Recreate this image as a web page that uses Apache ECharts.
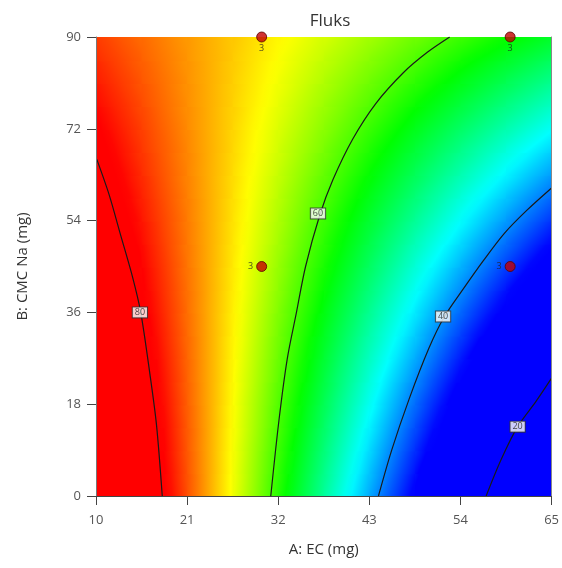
<!DOCTYPE html>
<html>
<head>
<meta charset="utf-8">
<title>Fluks</title>
<script src="https://cdn.jsdelivr.net/npm/echarts@6/dist/echarts.min.js"></script>
<style>
  html, body { margin: 0; padding: 0; background: #fff; }
  #chart { width: 562px; height: 568px; }
</style>
</head>
<body>
<div id="chart"></div>
<script>
// surface grid: columns are A: EC (mg), rows are B: CMC Na (mg)
var aLevels = [10, 15.5, 21, 26.5, 32, 37.5, 43, 48.5, 54, 59.5, 65];
var bLevels = [0, 4.5, 9, 13.5, 18, 22.5, 27, 31.5, 36, 40.5, 45, 49.5, 54, 58.5, 63, 67.5, 72, 76.5, 81, 85.5, 90];
var fluks = [
  [92.4, 83.9, 75.5, 67.0, 58.6, 50.1, 41.7, 33.3, 24.8, 16.4, 7.9],
  [91.5, 83.4, 75.3, 67.2, 59.0, 50.9, 42.8, 34.7, 26.5, 18.4, 10.3],
  [90.7, 82.9, 75.1, 67.3, 59.5, 51.7, 43.9, 36.1, 28.3, 20.5, 12.7],
  [89.9, 82.5, 75.0, 67.5, 60.0, 52.5, 45.0, 37.5, 30.0, 22.5, 15.0],
  [89.1, 82.0, 74.8, 67.6, 60.4, 53.3, 46.1, 38.9, 31.7, 24.6, 17.4],
  [88.3, 81.5, 74.6, 67.8, 60.9, 54.1, 47.2, 40.3, 33.5, 26.6, 19.8],
  [87.5, 81.0, 74.5, 67.9, 61.4, 54.8, 48.3, 41.8, 35.2, 28.7, 22.1],
  [86.7, 80.5, 74.3, 68.1, 61.8, 55.6, 49.4, 43.2, 36.9, 30.7, 24.5],
  [85.9, 80.0, 74.1, 68.2, 62.3, 56.4, 50.5, 44.6, 38.7, 32.8, 26.9],
  [85.1, 79.5, 74.0, 68.4, 62.8, 57.2, 51.6, 46.0, 40.4, 34.8, 29.2],
  [84.3, 79.1, 73.8, 68.5, 63.2, 58.0, 52.7, 47.4, 42.1, 36.9, 31.6],
  [83.5, 78.6, 73.6, 68.7, 63.7, 58.8, 53.8, 48.8, 43.9, 38.9, 34.0],
  [82.7, 78.1, 73.5, 68.8, 64.2, 59.5, 54.9, 50.3, 45.6, 41.0, 36.3],
  [81.9, 77.6, 73.3, 69.0, 64.6, 60.3, 56.0, 51.7, 47.3, 43.0, 38.7],
  [81.1, 77.1, 73.1, 69.1, 65.1, 61.1, 57.1, 53.1, 49.1, 45.1, 41.1],
  [80.3, 76.6, 73.0, 69.3, 65.6, 61.9, 58.2, 54.5, 50.8, 47.1, 43.4],
  [79.5, 76.2, 72.8, 69.4, 66.0, 62.7, 59.3, 55.9, 52.5, 49.2, 45.8],
  [78.7, 75.7, 72.6, 69.6, 66.5, 63.4, 60.4, 57.3, 54.3, 51.2, 48.2],
  [77.9, 75.2, 72.5, 69.7, 67.0, 64.2, 61.5, 58.8, 56.0, 53.3, 50.5],
  [77.1, 74.7, 72.3, 69.9, 67.4, 65.0, 62.6, 60.2, 57.7, 55.3, 52.9],
  [76.3, 74.2, 72.1, 70.0, 67.9, 65.8, 63.7, 61.6, 59.5, 57.4, 55.3]
];

// contour lines [A, B]
var contour80 = [[10.1, 66], [11.6, 59], [13.0, 51], [14.4, 43], [15.4, 36], [16.5, 24], [17.3, 14], [18.0, 0]];
var contour60 = [[52.7, 90], [50.0, 87], [47.1, 83], [43.8, 77], [41.0, 70], [38.6, 62], [37.0, 55], [35.3, 45],
                 [34.2, 36], [33.1, 27], [32.1, 15], [31.1, 0]];
var contour40 = [[65, 60.4], [62.0, 56], [59.3, 51.5], [56.7, 46], [54.3, 40.5], [52.0, 35], [50.2, 29],
                 [47.8, 19], [45.7, 9], [44.1, 0]];
var contour20 = [[65, 23.1], [63.1, 18.5], [60.9, 13.6], [58.9, 7.1], [57.1, 0]];
var contourLabels = [[15.3, 36, 80], [36.8, 55.4, 60], [51.9, 35.2, 40], [60.9, 13.6, 20]];

// design points [A, B, replicates]
var designPoints = [[30, 90, 3], [60, 90, 3], [30, 45, 3], [60, 45, 3]];

// colour ramp (value where each colour sits)
var rampValues = [34, 45.5, 57, 67.5, 79];
var rampColors = ['#0000ff', '#00ffff', '#00ff00', '#ffff00', '#ff0000'];
var font = 'Open Sans';

function colorOf(v) {
  if (v <= rampValues[0]) return rampColors[0];
  for (var i = 1; i < rampValues.length; i++) {
    if (v <= rampValues[i]) {
      var t = (v - rampValues[i - 1]) / (rampValues[i] - rampValues[i - 1]);
      return echarts.color.lerp(t, [rampColors[i - 1], rampColors[i]]);
    }
  }
  return rampColors[rampColors.length - 1];
}

var cells = [];
for (var r = 0; r < bLevels.length - 1; r++) {
  for (var c = 0; c < aLevels.length - 1; c++) {
    cells.push([aLevels[c], aLevels[c + 1], bLevels[r], bLevels[r + 1],
      fluks[r][c], fluks[r][c + 1], fluks[r + 1][c], fluks[r + 1][c + 1]]);
  }
}

// each cell is filled with a gradient running along its local slope
function renderCell(params, api) {
  var a0 = api.value(0), a1 = api.value(1), b0 = api.value(2), b1 = api.value(3);
  var v00 = api.value(4), v10 = api.value(5), v01 = api.value(6), v11 = api.value(7);
  var p0 = api.coord([a0, b0]);
  var p1 = api.coord([a1, b1]);
  var x = p0[0], y = p1[1], w = p1[0] - p0[0], h = p0[1] - p1[1];
  var gx = ((v10 - v00) + (v11 - v01)) / 2 / w;
  var gy = -((v01 - v00) + (v11 - v10)) / 2 / h;
  var vc = (v00 + v10 + v01 + v11) / 4;
  var cx = x + w / 2, cy = y + h / 2;
  var g = Math.sqrt(gx * gx + gy * gy) || 1e-6;
  var L = Math.sqrt(w * w + h * h) / 2 + 2;
  var ux = gx / g, uy = gy / g;
  var vs = vc - g * L, ve = vc + g * L;
  var stops = [];
  for (var i = 0; i <= 8; i++) {
    stops.push({ offset: i / 8, color: colorOf(vs + (ve - vs) * i / 8) });
  }
  return {
    type: 'rect',
    shape: {
      x: x,
      y: y,
      width: w + (a1 < 65 ? 1.2 : 0),
      height: h + (b0 > 0 ? 1.2 : 0)
    },
    style: {
      fill: new echarts.graphic.LinearGradient(cx - ux * L, cy - uy * L, cx + ux * L, cy + uy * L, stops, true)
    }
  };
}

function contourLine(data) {
  return {
    type: 'line',
    data: data,
    smooth: 0.3,
    showSymbol: false,
    silent: true,
    z: 3,
    lineStyle: { color: '#1a1a1a', width: 1.2 }
  };
}

var myChart = echarts.init(document.getElementById('chart'));
var option = {
  animation: false,
  title: {
    text: 'Fluks',
    left: 325,
    top: 8,
    textAlign: 'center',
    textStyle: { color: '#333', fontSize: 17, fontWeight: 'normal', fontFamily: font }
  },
  grid: { left: 96, right: 8, top: 37, bottom: 72 },
  xAxis: [
    {
      type: 'value',
      min: 10,
      max: 65,
      interval: 11,
      z: 10,
      name: 'A: EC (mg)',
      nameLocation: 'middle',
      nameGap: 46,
      nameTextStyle: { color: '#333', fontSize: 15, fontFamily: font },
      axisLine: { lineStyle: { color: '#555' } },
      axisTick: { length: 9, lineStyle: { color: '#444' } },
      axisLabel: { color: '#555', fontSize: 13, margin: 18, fontFamily: font },
      splitLine: { show: false }
    },
    {
      type: 'value',
      position: 'top',
      min: 10,
      max: 65,
      z: 10,
      axisLine: { lineStyle: { color: '#444' } },
      axisTick: { show: false },
      axisLabel: { show: false },
      splitLine: { show: false }
    }
  ],
  yAxis: [
    {
      type: 'value',
      min: 0,
      max: 90,
      interval: 18,
      z: 10,
      name: 'B: CMC Na (mg)',
      nameLocation: 'middle',
      nameGap: 66,
      nameTextStyle: { color: '#333', fontSize: 15, fontFamily: font },
      axisLine: { lineStyle: { color: '#777' } },
      axisTick: { length: 9, lineStyle: { color: '#444' } },
      axisLabel: { color: '#555', fontSize: 13, margin: 15, fontFamily: font },
      splitLine: { show: false }
    },
    {
      type: 'value',
      position: 'right',
      min: 0,
      max: 90,
      z: 10,
      axisLine: { lineStyle: { color: '#888' } },
      axisTick: { show: false },
      axisLabel: { show: false },
      splitLine: { show: false }
    }
  ],
  series: [
    {
      type: 'custom',
      renderItem: renderCell,
      data: cells,
      encode: { x: [0, 1], y: [2, 3] },
      silent: true,
      z: 1
    },
    contourLine(contour80),
    contourLine(contour60),
    contourLine(contour40),
    contourLine(contour20),
    {
      type: 'scatter',
      data: contourLabels,
      symbolSize: 1,
      silent: true,
      z: 4,
      itemStyle: { color: 'transparent' },
      label: {
        show: true,
        position: 'inside',
        formatter: function (p) { return p.value[2]; },
        color: '#222',
        fontSize: 9,
        fontFamily: font,
        backgroundColor: '#fff',
        borderColor: '#333',
        borderWidth: 1,
        padding: [1, 2, 0, 2]
      }
    },
    {
      type: 'scatter',
      data: designPoints.map(function (d) {
        return {
          value: d,
          label: { position: d[1] === 90 ? 'bottom' : 'left', distance: d[1] === 90 ? 1 : 3 }
        };
      }),
      symbolSize: 10,
      silent: true,
      z: 5,
      itemStyle: { color: '#c40000', borderColor: '#5a0000', borderWidth: 1 },
      label: {
        show: true,
        formatter: function (p) { return p.value[2]; },
        color: '#222',
        fontSize: 9,
        fontFamily: font
      }
    }
  ]
};
myChart.setOption(option);
</script>
</body>
</html>
